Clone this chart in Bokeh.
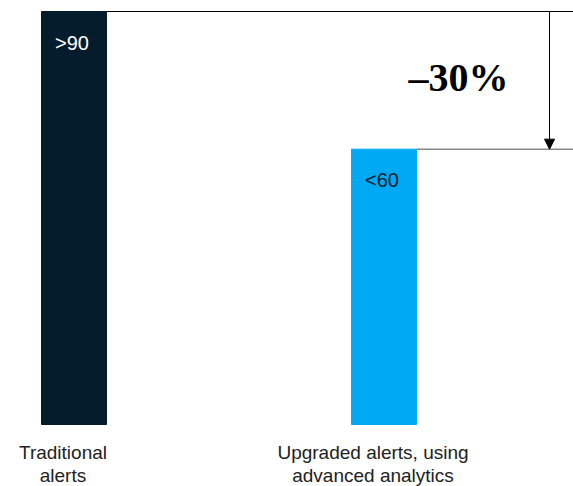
from bokeh.plotting import figure
from bokeh.models import Range1d, Arrow, NormalHead, ColumnDataSource
from bokeh.core.properties import value
from bokeh.embed import file_html
from bokeh.resources import INLINE

categories = ["Traditional\nalerts", "Upgraded alerts, using\nadvanced analytics"]
values = [90, 60]
value_labels = [">90", "<60"]
change_label = "\u201330%"
bar_colors = ["#051C2C", "#00A9F4"]
value_text_colors = ["#FFFFFF", "#051C2C"]

xs = list(range(len(categories)))
BAR_W = 0.2097
ARROW_X = 1.534

p = figure(width=573, height=486, output_backend="svg", toolbar_location=None,
           x_range=Range1d(-0.2371, 1.6113), y_range=Range1d(-13.51, 92.40),
           min_border=0, min_border_left=0, min_border_right=0,
           min_border_top=0, min_border_bottom=0)
p.axis.visible = False
p.grid.visible = False
p.outline_line_color = None
p.background_fill_color = "white"
p.border_fill_color = "white"

src = ColumnDataSource(dict(x=xs, top=values, color=bar_colors, lab=value_labels,
                            tcol=value_text_colors, cat=categories))
p.vbar(x="x", top="top", bottom=0, width=BAR_W, color="color", source=src)

# value labels inside bars
p.text(x="x", y="top", text="lab", text_color="tcol", source=src,
       text_align="center", text_baseline="middle", x_offset=-2, y_offset=31,
       text_font=value("Liberation Sans"), text_font_size="20px")

# category labels
p.text(x="x", y=0, text="cat", source=src, text_align="center", text_baseline="top",
       x_offset=-11, y_offset=17, text_color="#222222", text_line_height=1.12,
       text_font=value("Liberation Sans"), text_font_size="19px")

# reference lines
x_right = p.x_range.end
p.segment(x0=[xs[0] + BAR_W / 2], y0=[values[0]], x1=[x_right], y1=[values[0]],
          line_color="#000000", line_width=1)
p.segment(x0=[xs[1] + BAR_W / 2], y0=[values[1]], x1=[x_right], y1=[values[1]],
          line_color="#888888", line_width=1.5)

# arrow
p.add_layout(Arrow(x_start=ARROW_X, y_start=values[0], x_end=ARROW_X, y_end=values[1],
                   line_color="#000000", line_width=1,
                   end=NormalHead(size=10, fill_color="#000000", line_color="#000000")))

# change label
p.text(x=[ARROW_X], y=[(values[0] + values[1]) / 2], text=[change_label],
       text_align="center", text_baseline="middle", x_offset=-91, y_offset=-3,
       text_color="#000000", text_font=value("Liberation Serif"),
       text_font_style="bold", text_font_size="40px")

open("out.html", "w").write(file_html(p, INLINE))
